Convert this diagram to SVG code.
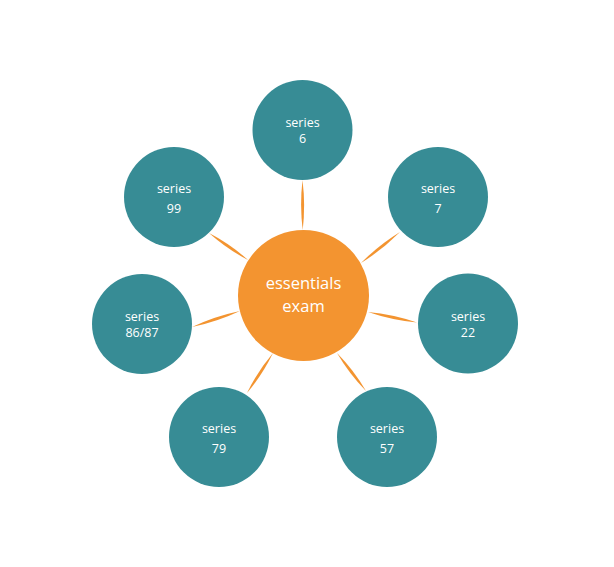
<svg xmlns="http://www.w3.org/2000/svg" width="614" height="567" viewBox="0 0 614 567">
<style>
.sat{fill:#378C95}
.hub{fill:#F39430}
.lbl{font-family:"Open Sans","Noto Sans","Liberation Sans",sans-serif;fill:#FFFFFF;text-anchor:middle;font-size:12.5px}
.hubl{font-size:16.5px}
.con{fill:#F39430;stroke:none}
</style>
<rect width="614" height="567" fill="#FFFFFF"/>
<g id="connectors">
<path class="con" d="M302.5,180 Q305.6,205 302.7,230 Q299.6,205 302.5,180Z"/>
<path class="con" d="M400,232 Q382.37,249.85 361,263 Q378.63,245.15 400,232Z"/>
<path class="con" d="M209,233 Q226.79,248.97 248,260 Q230.21,244.03 209,233Z"/>
<path class="con" d="M192,327 Q216.95,321.85 240,311 Q215.05,316.15 192,327Z"/>
<path class="con" d="M368,312 Q391.87,320.18 417,322.5 Q393.13,314.32 368,312Z"/>
<path class="con" d="M273,353 Q262.52,374.64 247,393 Q257.48,371.36 273,353Z"/>
<path class="con" d="M337,353 Q349.11,373.82 366,391 Q353.89,370.18 337,353Z"/>
</g>
<g id="hub">
<circle class="hub" cx="303.5" cy="295.5" r="65.5"/>
<text class="lbl hubl" x="303.5" y="289">essentials</text>
<text class="lbl hubl" x="303.5" y="312">exam</text>
</g>
<g id="series6">
<circle class="sat" cx="302.5" cy="130" r="50"/>
<text class="lbl" x="302.5" y="127">series</text>
<text class="lbl" x="302.5" y="143">6</text>
</g>
<g id="series7">
<circle class="sat" cx="438" cy="197" r="50"/>
<text class="lbl" x="438" y="193">series</text>
<text class="lbl" x="438" y="213">7</text>
</g>
<g id="series22">
<circle class="sat" cx="468" cy="323.5" r="50"/>
<text class="lbl" x="468" y="321">series</text>
<text class="lbl" x="468" y="337">22</text>
</g>
<g id="series57">
<circle class="sat" cx="387" cy="437" r="50"/>
<text class="lbl" x="387" y="433">series</text>
<text class="lbl" x="387" y="453">57</text>
</g>
<g id="series79">
<circle class="sat" cx="219" cy="437" r="50"/>
<text class="lbl" x="219" y="433">series</text>
<text class="lbl" x="219" y="453">79</text>
</g>
<g id="series8687">
<circle class="sat" cx="142" cy="324" r="50"/>
<text class="lbl" x="142" y="320.5">series</text>
<text class="lbl" x="142" y="337">86/87</text>
</g>
<g id="series99">
<circle class="sat" cx="174" cy="197" r="50"/>
<text class="lbl" x="174" y="193">series</text>
<text class="lbl" x="174" y="213">99</text>
</g>
</svg>
